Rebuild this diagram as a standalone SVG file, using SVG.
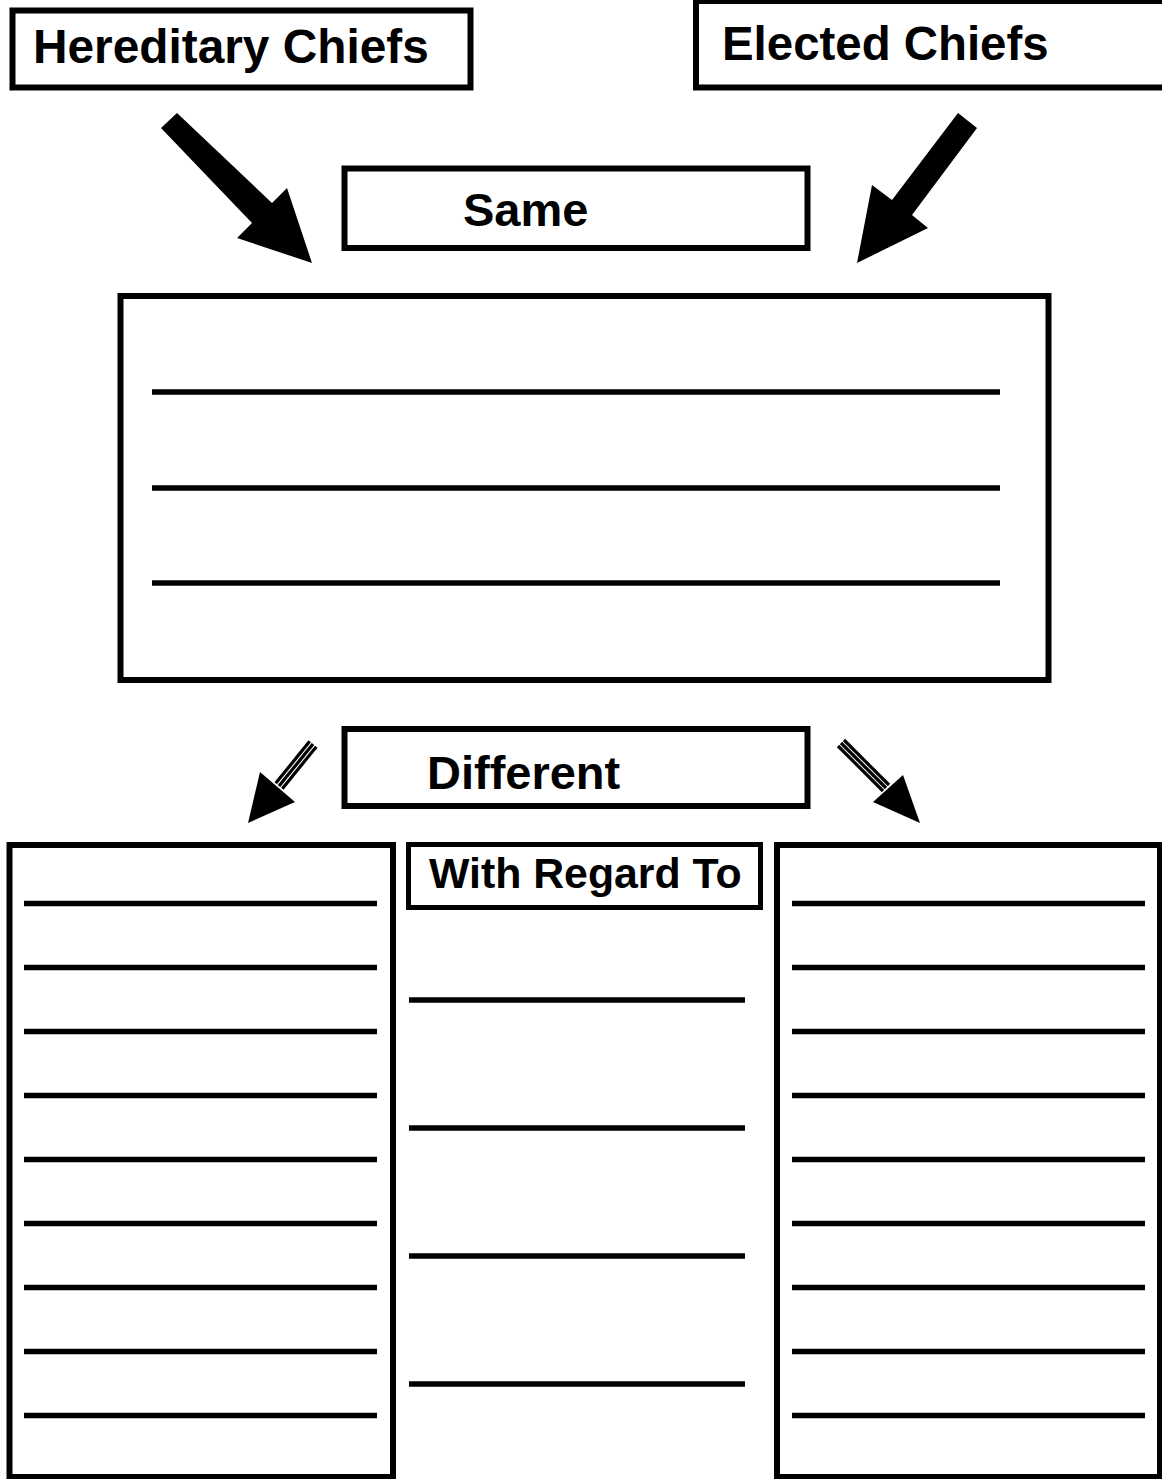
<svg xmlns="http://www.w3.org/2000/svg" width="1162" height="1479" viewBox="0 0 1162 1479">
<style>
.box{fill:#fff;stroke:#000;stroke-width:6}
.ln{stroke:#000;stroke-width:5.5;fill:none}
.t{font-family:"Liberation Sans",Arial,sans-serif;font-weight:bold;fill:#000}
.sh{stroke:#000;stroke-width:3.2;fill:none}
</style>
<rect width="1162" height="1479" fill="#fff"/>
<g id="hereditary">
<rect class="box" x="12.5" y="10.5" width="458" height="77"/>
<text class="t" x="33" y="63" font-size="47.8">Hereditary Chiefs</text>
</g>
<g id="elected">
<rect class="box" x="696" y="1" width="480" height="86.5"/>
<text class="t" x="722" y="60" font-size="47.4">Elected Chiefs</text>
</g>
<g id="same">
<rect class="box" x="344.5" y="168.5" width="463" height="79.5"/>
<text class="t" x="463" y="226" font-size="47">Same</text>
</g>
<g id="same-area">
<rect class="box" x="120.5" y="296" width="928" height="384"/>
<line class="ln" x1="152" y1="392" x2="1000" y2="392"/>
<line class="ln" x1="152" y1="488" x2="1000" y2="488"/>
<line class="ln" x1="152" y1="583" x2="1000" y2="583"/>
</g>
<g id="different">
<rect class="box" x="344.5" y="729" width="463" height="77"/>
<text class="t" x="427" y="789" font-size="47">Different</text>
</g>
<g id="left-column">
<rect class="box" x="9.5" y="845" width="383.5" height="632"/>
<line class="ln" x1="24" y1="903.5" x2="377" y2="903.5"/>
<line class="ln" x1="24" y1="967.5" x2="377" y2="967.5"/>
<line class="ln" x1="24" y1="1031.5" x2="377" y2="1031.5"/>
<line class="ln" x1="24" y1="1095.5" x2="377" y2="1095.5"/>
<line class="ln" x1="24" y1="1159.5" x2="377" y2="1159.5"/>
<line class="ln" x1="24" y1="1223.5" x2="377" y2="1223.5"/>
<line class="ln" x1="24" y1="1287.5" x2="377" y2="1287.5"/>
<line class="ln" x1="24" y1="1351.5" x2="377" y2="1351.5"/>
<line class="ln" x1="24" y1="1415.5" x2="377" y2="1415.5"/>
</g>
<g id="with-regard-to">
<rect class="box" x="408.5" y="844.5" width="352" height="63" style="stroke-width:5"/>
<text class="t" x="429" y="888" font-size="42.8">With Regard To</text>
<line class="ln" x1="409" y1="1000" x2="745" y2="1000"/>
<line class="ln" x1="409" y1="1128" x2="745" y2="1128"/>
<line class="ln" x1="409" y1="1256" x2="745" y2="1256"/>
<line class="ln" x1="409" y1="1384" x2="745" y2="1384"/>
</g>
<g id="right-column">
<rect class="box" x="777" y="845" width="383" height="632"/>
<line class="ln" x1="792" y1="903.5" x2="1145" y2="903.5"/>
<line class="ln" x1="792" y1="967.5" x2="1145" y2="967.5"/>
<line class="ln" x1="792" y1="1031.5" x2="1145" y2="1031.5"/>
<line class="ln" x1="792" y1="1095.5" x2="1145" y2="1095.5"/>
<line class="ln" x1="792" y1="1159.5" x2="1145" y2="1159.5"/>
<line class="ln" x1="792" y1="1223.5" x2="1145" y2="1223.5"/>
<line class="ln" x1="792" y1="1287.5" x2="1145" y2="1287.5"/>
<line class="ln" x1="792" y1="1351.5" x2="1145" y2="1351.5"/>
<line class="ln" x1="792" y1="1415.5" x2="1145" y2="1415.5"/>
</g>
<g id="connectors">
<polygon points="161,128 177,113 272,203 287,188 312,263 237,238 252,223" fill="#000"/>
<polygon points="958,113 977,128 912,215 928,228 857,263 872,185 892,200" fill="#000"/>
<g>
<line class="sh" x1="275.7" y1="783.3" x2="309.7" y2="741.3"/>
<line class="sh" x1="279" y1="786" x2="313" y2="744"/>
<line class="sh" x1="282.3" y1="788.7" x2="316.3" y2="746.7"/>
<polygon points="248,823 260,772 295,802" fill="#000"/>
</g>
<g>
<line class="sh" x1="883" y1="791" x2="838" y2="746"/>
<line class="sh" x1="886" y1="788" x2="841" y2="743"/>
<line class="sh" x1="889" y1="785" x2="844" y2="740"/>
<polygon points="920,823 873,802 903,775" fill="#000"/>
</g>
</g>
</svg>
